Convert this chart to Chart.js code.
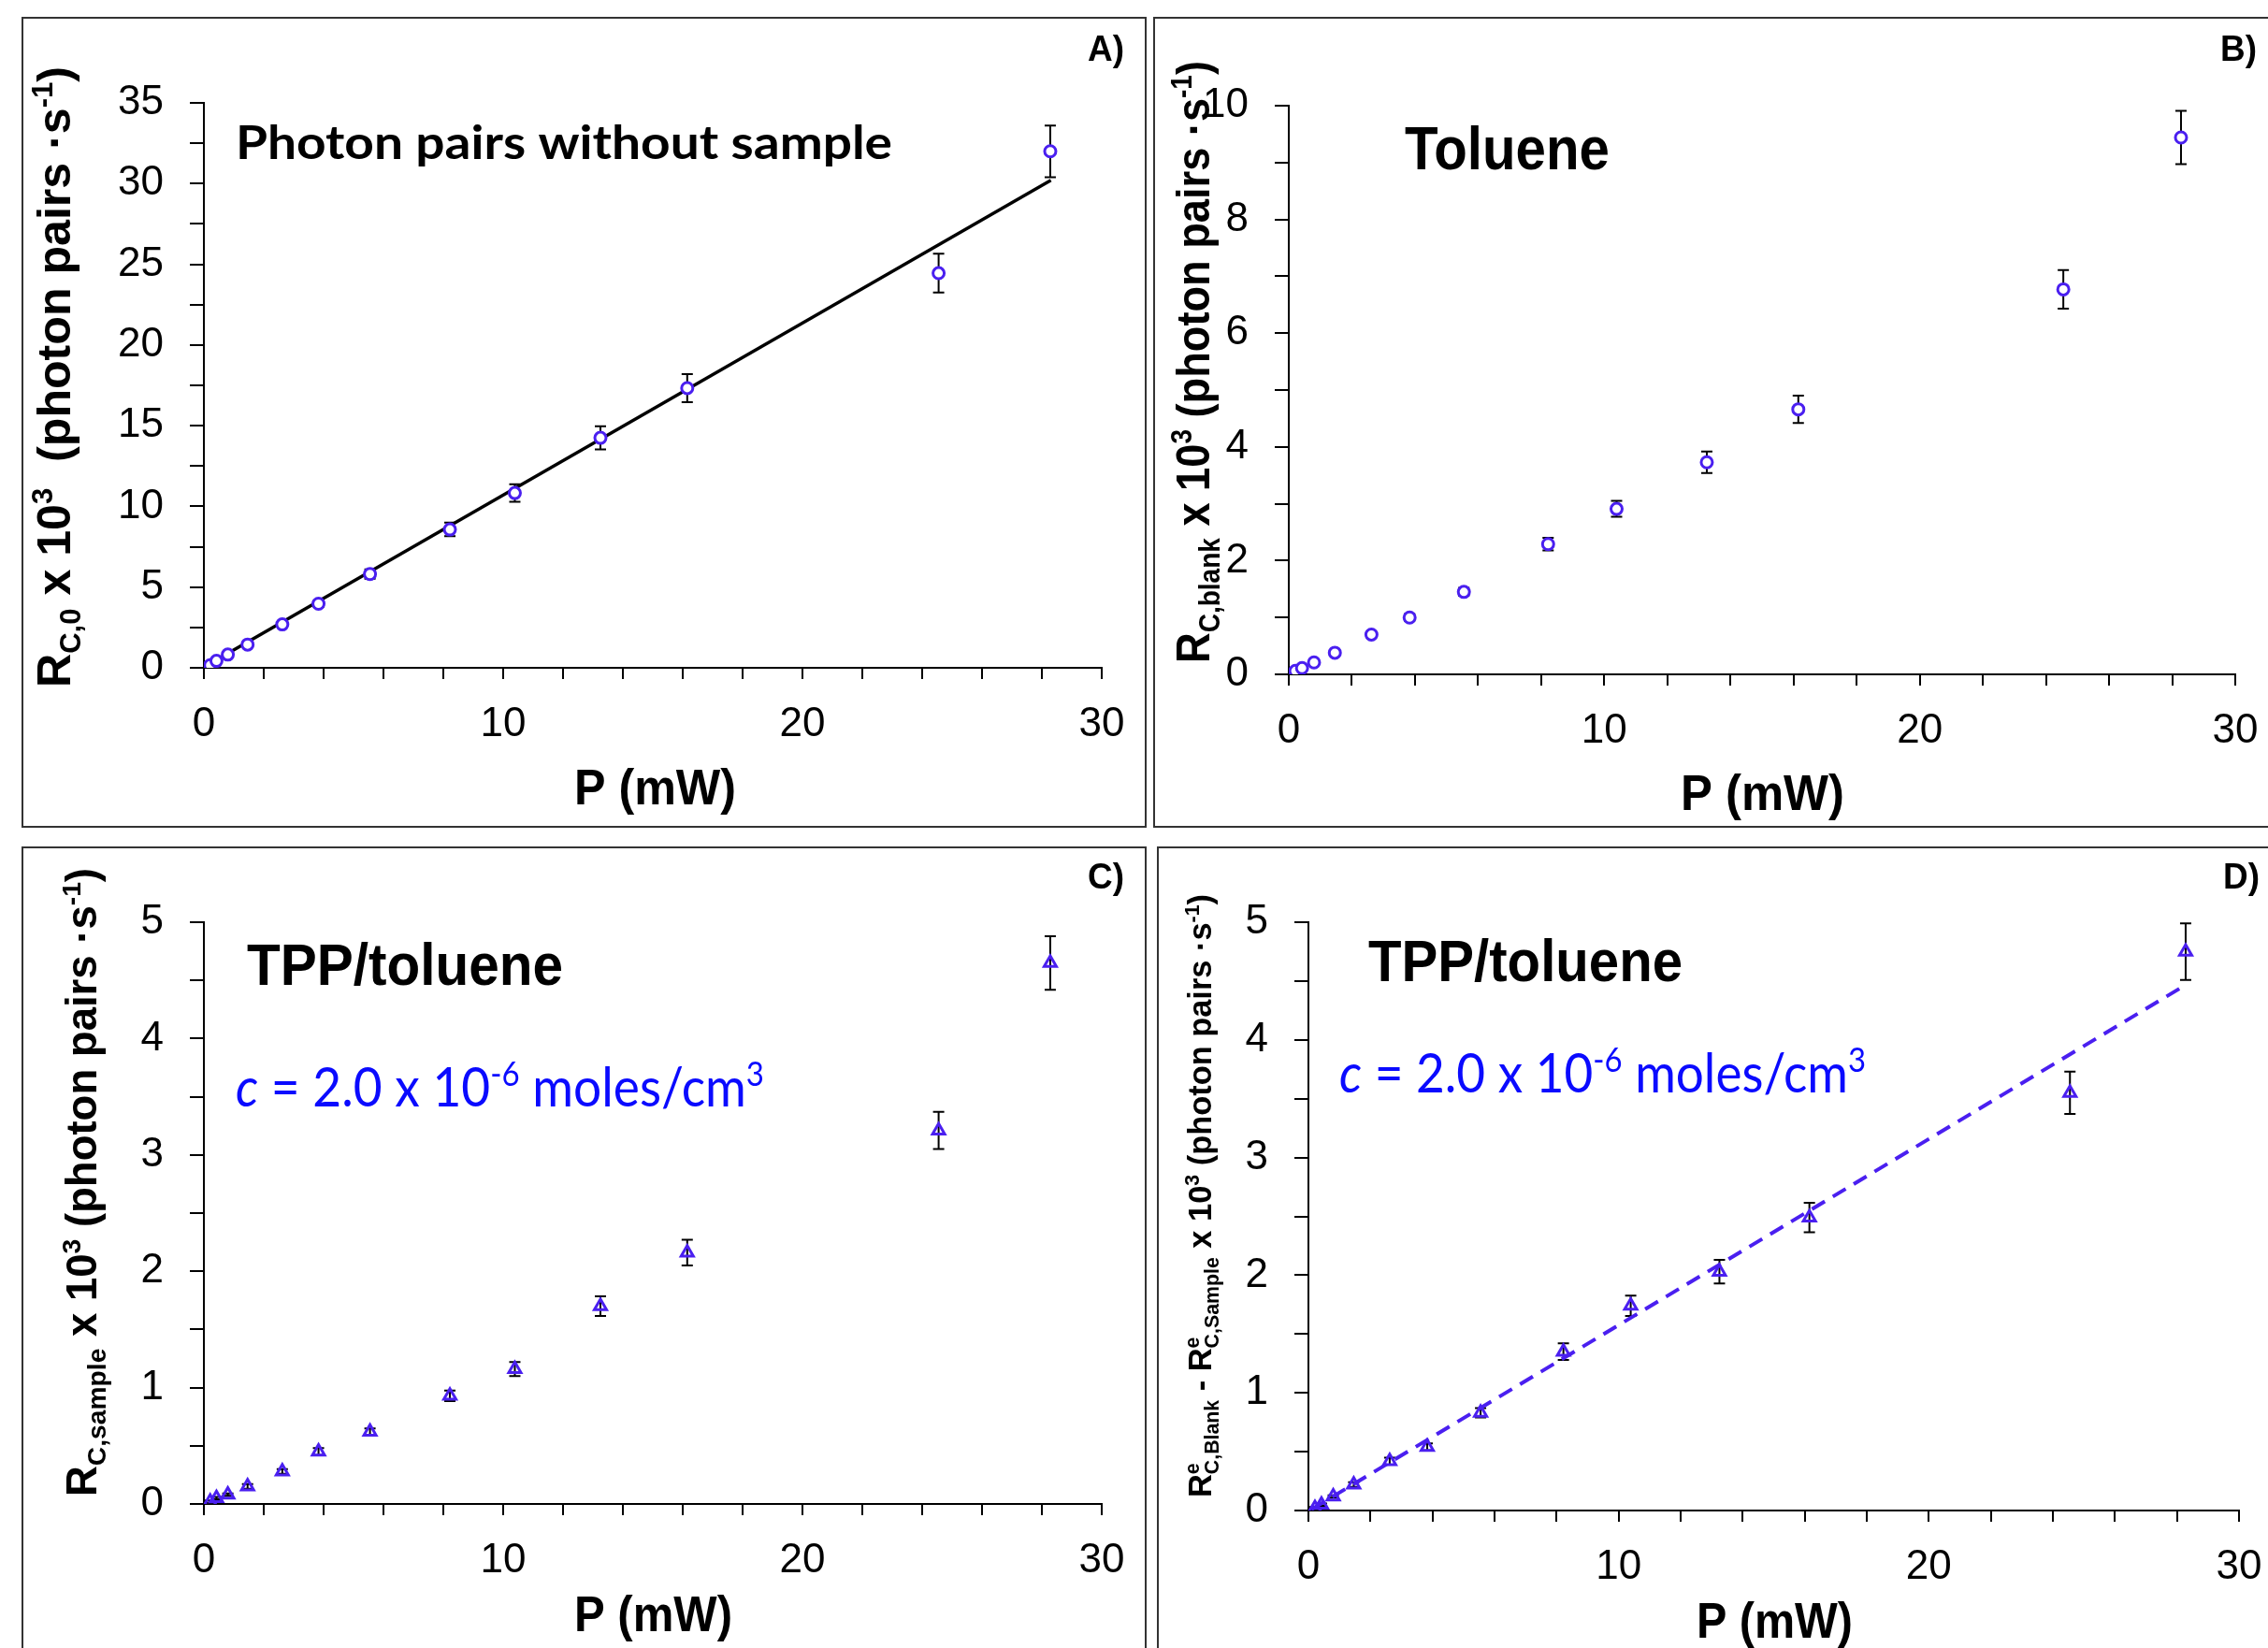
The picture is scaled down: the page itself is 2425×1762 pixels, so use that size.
<!DOCTYPE html>
<html>
<head>
<meta charset="utf-8">
<title>Photon pairs vs power</title>
<script src="https://cdn.jsdelivr.net/npm/chart.js@4.4.1/dist/chart.umd.min.js"></script>
<style>
  body { margin: 0; background: #fff; }
  #page { position: relative; width: 2425px; height: 1762px; overflow: hidden; background: #fff; }
  .frame { position: absolute; border: 2px solid #333; box-sizing: border-box; }
  canvas { position: absolute; }
</style>
</head>
<body>
<div id="page">
  <div class="frame" style="left:23px;top:18px;width:1203px;height:867px"></div>
  <div class="frame" style="left:1233px;top:18px;width:1250px;height:867px"></div>
  <div class="frame" style="left:23px;top:905px;width:1203px;height:900px"></div>
  <div class="frame" style="left:1237px;top:905px;width:1250px;height:900px"></div>
  <canvas id="chartA" width="1203" height="867" style="left:23px;top:18px"></canvas>
  <canvas id="chartB" width="1260" height="867" style="left:1233px;top:18px"></canvas>
  <canvas id="chartC" width="1203" height="857" style="left:23px;top:905px"></canvas>
  <canvas id="chartD" width="1260" height="857" style="left:1237px;top:905px"></canvas>
</div>
<script>
// pump power P (mW), same for all four panels
const power = [0.21, 0.42, 0.80, 1.46, 2.62, 3.83, 5.55, 8.22, 10.39, 13.25, 16.15, 24.55, 28.28];

// A) photon pairs without sample
const rateA = [0.16, 0.43, 0.82, 1.44, 2.69, 3.97, 5.81, 8.57, 10.83, 14.25, 17.33, 24.45, 32.0];
const errA = [0.03, 0.05, 0.08, 0.1, 0.14, 0.2, 0.29, 0.42, 0.54, 0.72, 0.87, 1.2, 1.6];
const fitAX = [0.15, 28.3];
const fitAY = [0.2, 30.2];

// B) toluene blank
const rateB = [0.06, 0.11, 0.21, 0.38, 0.70, 1.0, 1.45, 2.29, 2.91, 3.73, 4.66, 6.77, 9.44];
const errB = [0.02, 0.02, 0.03, 0.04, 0.05, 0.06, 0.07, 0.11, 0.14, 0.19, 0.24, 0.34, 0.47];

// C) TPP/toluene sample
const rateC = [0.02, 0.05, 0.08, 0.15, 0.28, 0.45, 0.62, 0.93, 1.16, 1.70, 2.16, 3.21, 4.65];
const errC = [0.01, 0.01, 0.01, 0.02, 0.02, 0.03, 0.03, 0.045, 0.06, 0.085, 0.11, 0.16, 0.23];

// D) blank - sample
const rateD = [0.02, 0.05, 0.12, 0.22, 0.42, 0.54, 0.83, 1.35, 1.74, 2.03, 2.49, 3.55, 4.75];
const errD = [0.01, 0.01, 0.01, 0.02, 0.03, 0.03, 0.04, 0.07, 0.087, 0.1, 0.125, 0.18, 0.24];
const fitDX = [0.1, 28.3];
const fitDY = [0.01, 4.47];

// tick labels
const xLabels = [0, 10, 20, 30];
const yLabelsA = [0, 5, 10, 15, 20, 25, 30, 35];
const yLabelsB = [0, 2, 4, 6, 8, 10];
const yLabelsCD = [0, 1, 2, 3, 4, 5];

const markColor = '#4a1ff0';
const blueText = '#0a0aff';

const pts = (xs, ys) => xs.map((x, i) => ({ x: x, y: ys[i] }));
const hasLabel = (list, v) => list.some(l => Math.abs(l - v) < 1e-6);

// error bars drawn from the chart scales
const errorBars = {
  id: 'errorBars',
  beforeDatasetsDraw(chart) {
    const { ctx, scales: { x, y } } = chart;
    chart.data.datasets.forEach(ds => {
      if (!ds.err) return;
      ctx.save();
      ctx.strokeStyle = '#000';
      ctx.lineWidth = 2;
      ds.data.forEach((p, i) => {
        const px = x.getPixelForValue(p.x);
        const top = y.getPixelForValue(p.y + ds.err[i]);
        const bot = y.getPixelForValue(p.y - ds.err[i]);
        ctx.beginPath();
        ctx.moveTo(px, top); ctx.lineTo(px, bot);
        ctx.moveTo(px - 6, top); ctx.lineTo(px + 6, top);
        ctx.moveTo(px - 6, bot); ctx.lineTo(px + 6, bot);
        ctx.stroke();
      });
      ctx.restore();
    });
  }
};

// rich text (sub/superscripts) for titles and notes
function fontStr(k, s, fam, weight) {
  return (k === 'i' ? 'italic ' : '') + weight + ' ' + s + 'px ' + fam;
}
function partSize(k, size) {
  return (k === 'sub' || k === 'sup' || k === 'supx') ? size * 0.62 : size;
}
function drawRich(ctx, it) {
  const fam = it.fam || '"Liberation Sans"';
  const weight = it.weight || 'bold';
  ctx.save();
  let nat = 0;
  it.parts.forEach(([t, k]) => {
    ctx.font = fontStr(k, partSize(k, it.size), fam, weight);
    if (k !== 'supx') nat += ctx.measureText(t).width;
  });
  const sx = it.width ? it.width / nat : 1;
  ctx.fillStyle = it.color || '#000';
  ctx.textBaseline = 'alphabetic';
  ctx.textAlign = 'left';
  ctx.translate(it.x, it.y);
  if (it.rot) ctx.rotate(-Math.PI / 2);
  ctx.scale(sx, 1);
  let cx = 0;
  it.parts.forEach(([t, k]) => {
    ctx.font = fontStr(k, partSize(k, it.size), fam, weight);
    const dy = k === 'sub' ? it.size * 0.22 : (k === 'sup' || k === 'supx') ? -it.size * 0.38 : 0;
    ctx.fillText(t, cx, dy);
    if (k !== 'supx') cx += ctx.measureText(t).width;
  });
  ctx.restore();
}
const textPlugin = items => ({
  id: 'texts',
  afterDraw(chart) { items.forEach(it => drawRich(chart.ctx, it)); }
});

const unitTail = [[' (photon pairs ·s'], ['-1', 'sup'], [')']];
const noteParts = [['c', 'i'], [' = 2.0 x 10'], ['-6', 'sup'], [' moles/cm'], ['3', 'sup']];
const pmw = [['P (mW)']];

function axes(yMax, yStep, yLabels, fit) {
  const tickFont = { family: '"Liberation Sans"', size: 44 };
  return {
    x: {
      type: 'linear', min: 0, max: 30,
      afterFit: s => { s.height = fit.xh; },
      border: { display: true, color: '#000', width: 2 },
      grid: { display: true, drawOnChartArea: false, drawTicks: true, tickLength: 12, color: '#000', lineWidth: 2 },
      ticks: { stepSize: 2, autoSkip: false, maxRotation: 0, maxTicksLimit: 100, padding: 22, color: '#000', font: tickFont,
        callback: v => hasLabel(xLabels, v) ? String(v) : '' }
    },
    y: {
      type: 'linear', min: 0, max: yMax,
      afterFit: s => { s.width = fit.yw; },
      border: { display: true, color: '#000', width: 2 },
      grid: { display: true, drawOnChartArea: false, drawTicks: true, tickLength: 15, color: '#000', lineWidth: 2 },
      ticks: { stepSize: yStep, autoSkip: false, maxTicksLimit: 100, padding: 28, color: '#000', font: tickFont,
        callback: v => hasLabel(yLabels, v) ? String(v) : '' }
    }
  };
}

function buildChart(id, area, datasets, yMax, yStep, yLabels, texts) {
  const cv = document.getElementById(id);
  const W = cv.width, H = cv.height;
  const fit = { yw: area.left, xh: H - area.bottom };
  const pad = { top: area.top, right: W - area.right, left: 0, bottom: 0 };
  const chart = new Chart(cv, {
    type: 'scatter',
    data: { datasets: datasets },
    options: {
      responsive: false, animation: false, devicePixelRatio: 1,
      layout: { padding: Object.assign({}, pad) },
      plugins: { legend: { display: false }, tooltip: { enabled: false } },
      scales: axes(yMax, yStep, yLabels, fit)
    },
    plugins: [errorBars, textPlugin(texts)]
  });
  // nudge the layout so the plot area lands where the reference has it
  for (let k = 0; k < 4; k++) {
    const ca = chart.chartArea;
    const dl = area.left - ca.left, dt = area.top - ca.top;
    const dr = ca.right - area.right, db = ca.bottom - area.bottom;
    if (Math.abs(dl) + Math.abs(dt) + Math.abs(dr) + Math.abs(db) < 1) break;
    fit.yw += dl; fit.xh += db;
    pad.top += dt; pad.right += dr;
    chart.options.layout.padding = Object.assign({}, pad);
    chart.update('none');
  }
  return chart;
}

function pointSet(ys, errs, style) {
  return {
    data: pts(power, ys), err: errs, order: 1,
    pointStyle: style, pointRadius: style === 'circle' ? 6 : 7.5,
    pointBorderWidth: 3, pointBorderColor: markColor,
    pointBackgroundColor: style === 'circle' ? '#fff' : 'rgba(0,0,0,0)',
    borderColor: markColor, showLine: false
  };
}
function fitLine(xs, ys, color, dash, width) {
  return {
    data: pts(xs, ys), order: 2, showLine: true, pointRadius: 0,
    borderColor: color, borderWidth: width, borderDash: dash, fill: false
  };
}

buildChart('chartA', { left: 195, right: 1155, top: 92, bottom: 696 },
  [pointSet(rateA, errA, 'circle'), fitLine(fitAX, fitAY, '#000', [], 3.5)],
  35, 2.5, yLabelsA, [
    { parts: [['Photon pairs without sample']], x: 229, y: 152, size: 50, fam: 'Lato', width: 702 },
    { parts: [['A)']], x: 1140, y: 47, size: 39, width: 39 },
    { parts: pmw, x: 591, y: 842, size: 54, width: 173 },
    { parts: [['R'], ['C,0', 'sub'], [' x 10'], ['3', 'sup'], ['  (photon pairs ·s'], ['-1', 'sup'], [')']],
      x: 52, y: 717, size: 50, width: 664, rot: true }
  ]);

buildChart('chartB', { left: 145, right: 1157, top: 95, bottom: 703 },
  [pointSet(rateB, errB, 'circle')],
  10, 1, yLabelsB, [
    { parts: [['Toluene']], x: 269, y: 163, size: 64, width: 219 },
    { parts: [['B)']], x: 1141, y: 47, size: 39, width: 39 },
    { parts: pmw, x: 564, y: 848, size: 54, width: 175 },
    { parts: [['R'], ['C,blank', 'sub'], [' x 10'], ['3', 'sup']].concat(unitTail),
      x: 60, y: 691, size: 50, width: 644, rot: true }
  ]);

buildChart('chartC', { left: 195, right: 1155, top: 81, bottom: 703 },
  [pointSet(rateC, errC, 'triangle')],
  5, 0.5, yLabelsCD, [
    { parts: [['TPP/toluene']], x: 241, y: 148, size: 63, width: 338 },
    { parts: noteParts, x: 229, y: 278, size: 58, fam: 'Lato', weight: 'normal', color: blueText, width: 565 },
    { parts: [['C)']], x: 1140, y: 45, size: 39, width: 39 },
    { parts: pmw, x: 591, y: 839, size: 54, width: 169 },
    { parts: [['R'], ['C,sample', 'sub'], [' x 10'], ['3', 'sup']].concat(unitTail),
      x: 80, y: 695, size: 46, width: 672, rot: true }
  ]);

buildChart('chartD', { left: 162, right: 1157, top: 81, bottom: 710 },
  [pointSet(rateD, errD, 'triangle'), fitLine(fitDX, fitDY, markColor, [16, 10], 4)],
  5, 0.5, yLabelsCD, [
    { parts: [['TPP/toluene']], x: 226, y: 144, size: 63, width: 336 },
    { parts: noteParts, x: 195, y: 263, size: 58, fam: 'Lato', weight: 'normal', color: blueText, width: 563 },
    { parts: [['D)']], x: 1140, y: 45, size: 39, width: 39 },
    { parts: pmw, x: 577, y: 846, size: 54, width: 167 },
    { parts: [['R'], ['e', 'supx'], ['C,Blank', 'sub'], [' - R'], ['e', 'supx'], ['C,Sample', 'sub'], [' x 10'], ['3', 'sup']].concat(unitTail),
      x: 58, y: 696, size: 35, width: 645, rot: true }
  ]);
</script>
</body>
</html>
